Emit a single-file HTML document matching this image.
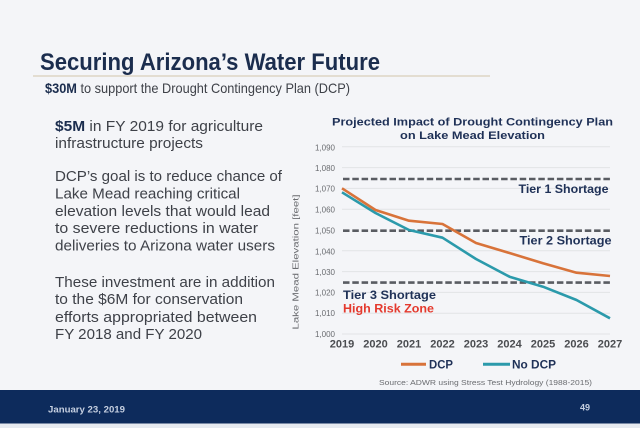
<!DOCTYPE html>
<html><head><meta charset="utf-8"><style>
html,body{margin:0;padding:0;width:640px;height:428px;overflow:hidden;background:#f4f5f8;}
svg{display:block;font-family:"Liberation Sans",sans-serif;}
</style></head><body>
<svg width="640" height="428" viewBox="0 0 640 428" xmlns="http://www.w3.org/2000/svg">
<rect x="0" y="0" width="640" height="428" fill="#f4f5f8"/>
<!-- Title -->
<text x="40" y="70" font-size="24" font-weight="bold" fill="#1b2d4e" textLength="340" lengthAdjust="spacingAndGlyphs">Securing Arizona’s Water Future</text>
<line x1="33" y1="76" x2="490" y2="76" stroke="#ddd5c4" stroke-width="1.5"/>
<text x="45" y="93" font-size="14" fill="#3e4148" textLength="305" lengthAdjust="spacingAndGlyphs"><tspan font-weight="bold" fill="#1b2d4e">$30M</tspan> to support the Drought Contingency Plan (DCP)</text>
<!-- left text -->
<g font-size="15" fill="#3e4148">
<text x="55" y="131" textLength="208" lengthAdjust="spacingAndGlyphs"><tspan font-weight="bold" fill="#1b2d4e">$5M</tspan> in FY 2019 for agriculture</text>
<text x="55" y="148" textLength="148" lengthAdjust="spacingAndGlyphs">infrastructure projects</text>
<text x="55" y="181" textLength="227" lengthAdjust="spacingAndGlyphs">DCP’s goal is to reduce chance of</text>
<text x="55" y="198.5" textLength="185" lengthAdjust="spacingAndGlyphs">Lake Mead reaching critical</text>
<text x="55" y="216" textLength="215" lengthAdjust="spacingAndGlyphs">elevation levels that would lead</text>
<text x="55" y="233" textLength="203" lengthAdjust="spacingAndGlyphs">to severe reductions in water</text>
<text x="55" y="250.5" textLength="220" lengthAdjust="spacingAndGlyphs">deliveries to Arizona water users</text>
<text x="55" y="287" textLength="220" lengthAdjust="spacingAndGlyphs">These investment are in addition</text>
<text x="55" y="304" textLength="188" lengthAdjust="spacingAndGlyphs">to the $6M for conservation</text>
<text x="55" y="322" textLength="202" lengthAdjust="spacingAndGlyphs">efforts appropriated between</text>
<text x="55" y="339" textLength="147" lengthAdjust="spacingAndGlyphs">FY 2018 and FY 2020</text>
</g>
<!-- Chart title -->
<text x="332" y="125.5" font-size="11" font-weight="bold" fill="#1f3157" textLength="281" lengthAdjust="spacingAndGlyphs">Projected Impact of Drought Contingency Plan</text>
<text x="400" y="139" font-size="11" font-weight="bold" fill="#1f3157" textLength="145" lengthAdjust="spacingAndGlyphs">on Lake Mead Elevation</text>
<!-- gridlines -->
<g stroke="#e2e3e6" stroke-width="1">
<line x1="342" y1="334" x2="610" y2="334"/>
<line x1="342" y1="313.2" x2="610" y2="313.2"/>
<line x1="342" y1="292.4" x2="610" y2="292.4"/>
<line x1="342" y1="271.6" x2="610" y2="271.6"/>
<line x1="342" y1="250.8" x2="610" y2="250.8"/>
<line x1="342" y1="209.2" x2="610" y2="209.2"/>
<line x1="342" y1="188.4" x2="610" y2="188.4"/>
<line x1="342" y1="167.6" x2="610" y2="167.6"/>
<line x1="342" y1="146.8" x2="610" y2="146.8"/>
</g>
<!-- y tick labels -->
<g font-size="8" fill="#6a6c70" text-anchor="end">
<text x="335" y="337">1,000</text>
<text x="335" y="316">1,010</text>
<text x="335" y="295.5">1,020</text>
<text x="335" y="275">1,030</text>
<text x="335" y="254.5">1,040</text>
<text x="335" y="233.5">1,050</text>
<text x="335" y="212.5">1,060</text>
<text x="335" y="191.5">1,070</text>
<text x="335" y="171">1,080</text>
<text x="335" y="150.5">1,090</text>
</g>
<text transform="translate(298.5,262) rotate(-90)" font-size="8" fill="#6a6c70" text-anchor="middle" textLength="135" lengthAdjust="spacingAndGlyphs">Lake Mead Elevation [feet]</text>
<!-- dashed tiers -->
<g stroke="#595c62" stroke-width="2.6" stroke-dasharray="6.5,2.8">
<line x1="343" y1="179" x2="610" y2="179"/>
<line x1="343" y1="230.7" x2="610" y2="230.7"/>
<line x1="343" y1="282.6" x2="610" y2="282.6"/>
</g>
<g font-size="12" font-weight="bold" fill="#1f3157">
<text x="518.5" y="193" textLength="90" lengthAdjust="spacingAndGlyphs">Tier 1 Shortage</text>
<text x="519.5" y="244.5" textLength="92" lengthAdjust="spacingAndGlyphs">Tier 2 Shortage</text>
<text x="343" y="299" textLength="93" lengthAdjust="spacingAndGlyphs">Tier 3 Shortage</text>
</g>
<text x="343" y="312.5" font-size="12" font-weight="bold" fill="#e4392d" textLength="91" lengthAdjust="spacingAndGlyphs">High Risk Zone</text>
<!-- series -->
<polyline fill="none" stroke="#2b9aab" stroke-width="2.6" stroke-linejoin="round" points="342,192.3 375.5,213 409,230 442.5,237.7 476,259 509.5,276.7 543,286.7 576.5,300 610,318.3"/>
<polyline fill="none" stroke="#d8733a" stroke-width="2.6" stroke-linejoin="round" points="342,188.3 375.5,210 409,220.7 442.5,224 476,243 509.5,253 543,263.3 576.5,272.7 610,276"/>
<!-- x labels -->
<g font-size="11" font-weight="bold" fill="#4a4c50" text-anchor="middle">
<text x="342" y="347.5">2019</text>
<text x="375.5" y="347.5">2020</text>
<text x="409" y="347.5">2021</text>
<text x="442.5" y="347.5">2022</text>
<text x="476" y="347.5">2023</text>
<text x="509.5" y="347.5">2024</text>
<text x="543" y="347.5">2025</text>
<text x="576.5" y="347.5">2026</text>
<text x="610" y="347.5">2027</text>
</g>
<!-- legend -->
<line x1="401" y1="364.3" x2="426" y2="364.3" stroke="#d8733a" stroke-width="3"/>
<text x="429" y="368.5" font-size="11.5" font-weight="bold" fill="#1f3157" textLength="24" lengthAdjust="spacingAndGlyphs">DCP</text>
<line x1="483" y1="364.3" x2="510" y2="364.3" stroke="#2b9aab" stroke-width="3"/>
<text x="512" y="368.5" font-size="11.5" font-weight="bold" fill="#1f3157" textLength="44" lengthAdjust="spacingAndGlyphs">No DCP</text>
<text x="379" y="385" font-size="7" fill="#6a6c70" textLength="213" lengthAdjust="spacingAndGlyphs">Source: ADWR using Stress Test Hydrology (1988-2015)</text>
<!-- footer -->
<rect x="0" y="390" width="640" height="33.5" fill="#0d2b5c"/>
<rect x="0" y="423.5" width="640" height="4.5" fill="#e6eaf0"/>
<text x="48" y="412.5" font-size="9" font-weight="bold" fill="#c5cfe0" textLength="77" lengthAdjust="spacingAndGlyphs">January 23, 2019</text>
<text x="580" y="410.5" font-size="9" font-weight="bold" fill="#c5cfe0">49</text>
</svg>
</body></html>
